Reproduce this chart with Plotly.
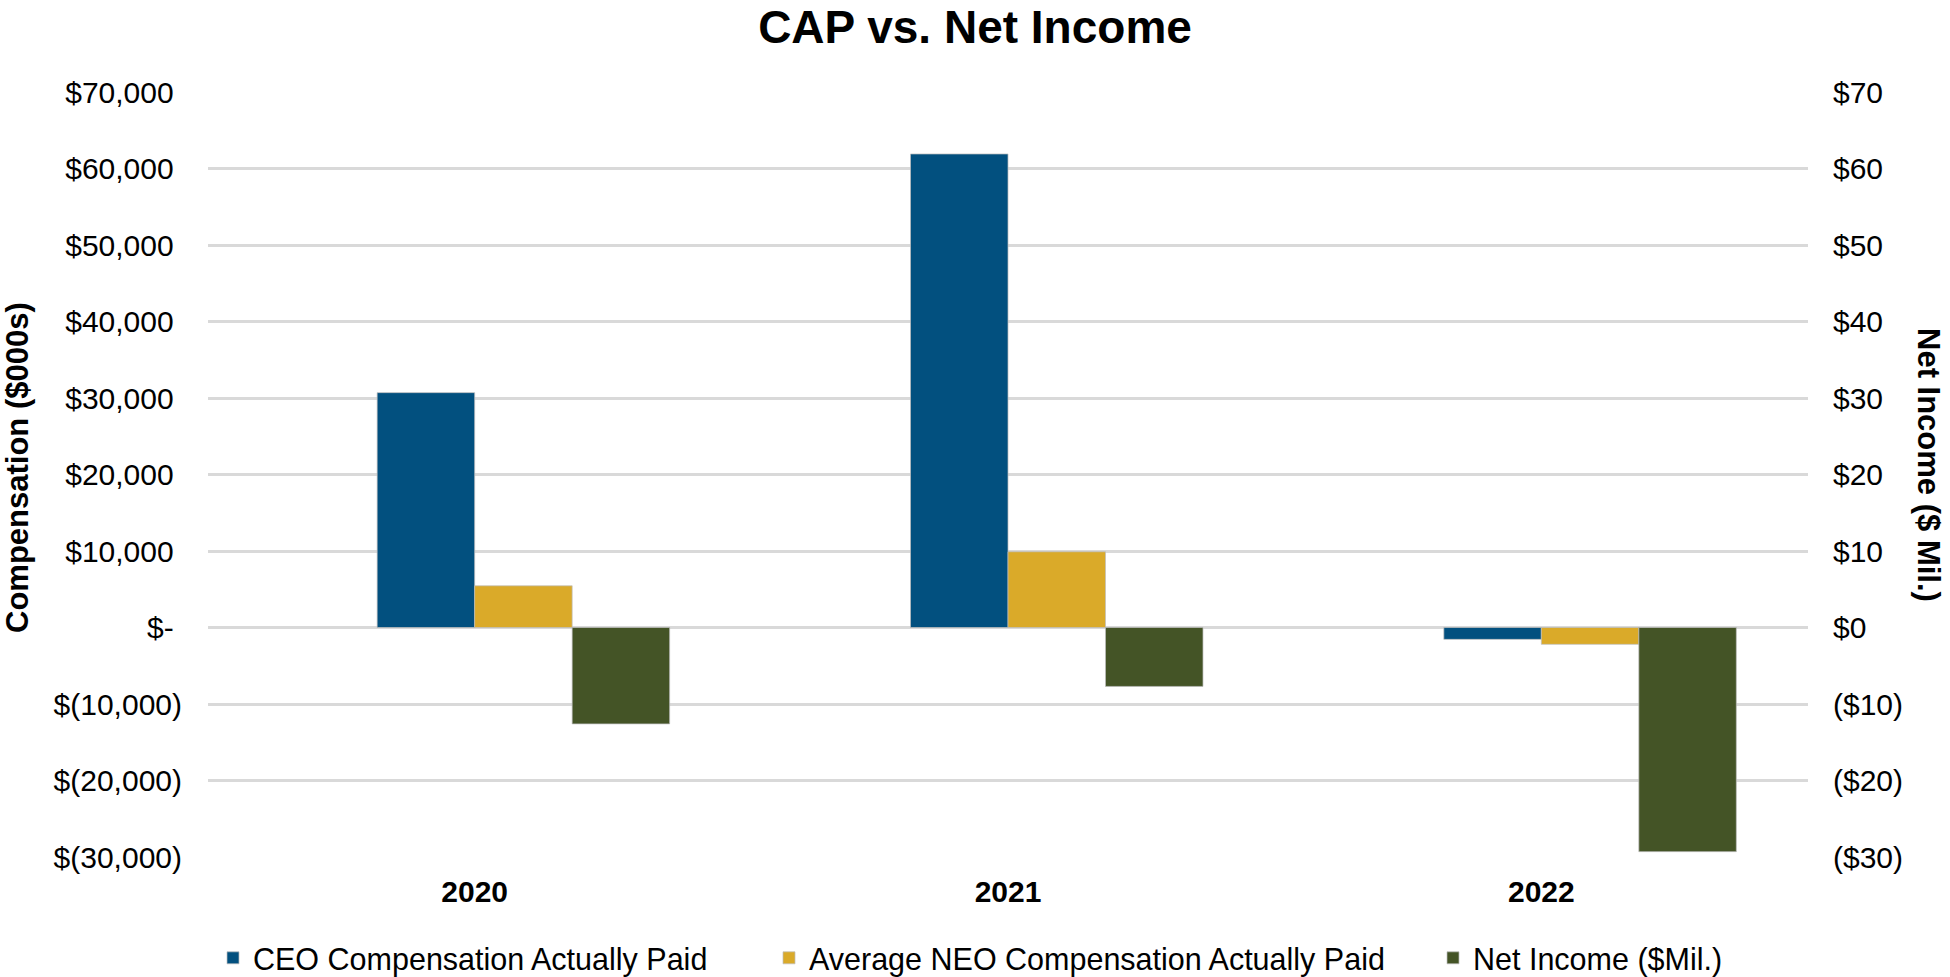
import plotly.graph_objects as go

years = ["2020", "2021", "2022"]
ceo_cap = [30700, 61900, -1550]          # $000s
neo_cap = [5450, 9900, -2200]            # $000s
net_income = [-12.6, -7.7, -29.3]        # $ Mil.

PAD = "\u2008"  # accounting-style right padding (width of ")") on non-negative labels
left_tickvals = [70000, 60000, 50000, 40000, 30000, 20000, 10000, 0, -10000, -20000, -30000]
left_ticktext = ["$70,000" + PAD, "$60,000" + PAD, "$50,000" + PAD, "$40,000" + PAD, "$30,000" + PAD,
                 "$20,000" + PAD, "$10,000" + PAD, "$-" + PAD, "$(10,000)", "$(20,000)", "$(30,000)"]
right_tickvals = [70, 60, 50, 40, 30, 20, 10, 0, -10, -20, -30]
right_ticktext = ["$70", "$60", "$50", "$40", "$30", "$20", "$10", "$0", "($10)", "($20)", "($30)"]

names = ["CEO Compensation Actually Paid", "Average NEO Compensation Actually Paid", "Net Income ($Mil.)"]
colors = ["#02507F", "#DAAA29", "#445426"]

FONT = "Liberation Sans, Arial, sans-serif"
W, H = 1950, 977
ML, MR, MT, MB = 208, 142, 92, 120
bw = 0.1828
outline = dict(width=0.8, color="rgba(190,190,190,0.9)")

fig = go.Figure()
fig.add_trace(go.Bar(x=years, y=ceo_cap, name=names[0], marker=dict(color=colors[0], line=outline),
                     width=bw, offset=-bw, legend="legend"))
fig.add_trace(go.Bar(x=years, y=neo_cap, name=names[1], marker=dict(color=colors[1], line=outline),
                     width=bw, offset=0, legend="legend2"))
fig.add_trace(go.Bar(x=years, y=net_income, name=names[2], marker=dict(color=colors[2], line=outline),
                     width=bw, offset=bw, yaxis="y2", legend="legend3"))

legend_common = dict(orientation="h", xref="container", yref="container", yanchor="middle",
                     xanchor="left", font=dict(family=FONT, size=30.5, color="#000"),
                     bgcolor="rgba(0,0,0,0)", itemwidth=30)
LEG_Y = 1 - 958 / H

fig.update_layout(
    width=W, height=H,
    margin=dict(l=ML, r=MR, t=MT, b=MB, autoexpand=False),
    paper_bgcolor="white", plot_bgcolor="white",
    barmode="overlay",
    font=dict(family=FONT, size=30, color="#000"),
    title=dict(text="CAP vs. Net Income", x=0.5, xanchor="center", y=1 - 27 / H, yanchor="middle",
               xref="container", yref="container",
               font=dict(family=FONT, size=46, color="#000", weight="bold")),
    xaxis=dict(type="category", categoryorder="array", categoryarray=years, range=[-0.5, 2.5],
               showgrid=False, zeroline=False, showline=False, ticks="",
               tickfont=dict(family=FONT, size=30, color="#000", weight="bold"),
               ticklabelstandoff=14),
    yaxis=dict(range=[-30000, 70000], tickvals=left_tickvals, ticktext=left_ticktext,
               showgrid=True, gridcolor="#D9D9D9", gridwidth=2.5, zeroline=False, showline=False,
               ticks="", tickfont=dict(family=FONT, size=30, color="#000"), ticklabelstandoff=25),
    yaxis2=dict(range=[-30, 70], tickvals=right_tickvals, ticktext=right_ticktext,
                overlaying="y", side="right", showgrid=False, zeroline=False, showline=False,
                ticks="", tickfont=dict(family=FONT, size=30, color="#000"), ticklabelstandoff=24),
    legend=dict(legend_common, x=213 / W, y=LEG_Y),
    legend2=dict(legend_common, x=769 / W, y=LEG_Y),
    legend3=dict(legend_common, x=1433 / W, y=LEG_Y),
    showlegend=True,
    annotations=[
        dict(text="Compensation ($000s)", xref="paper", yref="paper", x=0, y=0.5,
             xanchor="center", yanchor="middle", showarrow=False, textangle=-90,
             xshift=17 - ML, yshift=(H - MB - MT) / 2 + MT - 468,
             font=dict(family=FONT, size=31, color="#000", weight="bold")),
        dict(text="Net Income ($ Mil.)", xref="paper", yref="paper", x=1, y=0.5,
             xanchor="center", yanchor="middle", showarrow=False, textangle=90,
             xshift=1929 - (W - MR), yshift=(H - MB - MT) / 2 + MT - 465,
             font=dict(family=FONT, size=31, color="#000", weight="bold")),
    ],
)

fig.write_html(
    "out.html",
    config={"displayModeBar": False},
    post_script="document.body.style.margin='0px';document.body.style.padding='0px';"
                "document.body.style.overflow='hidden';",
)
